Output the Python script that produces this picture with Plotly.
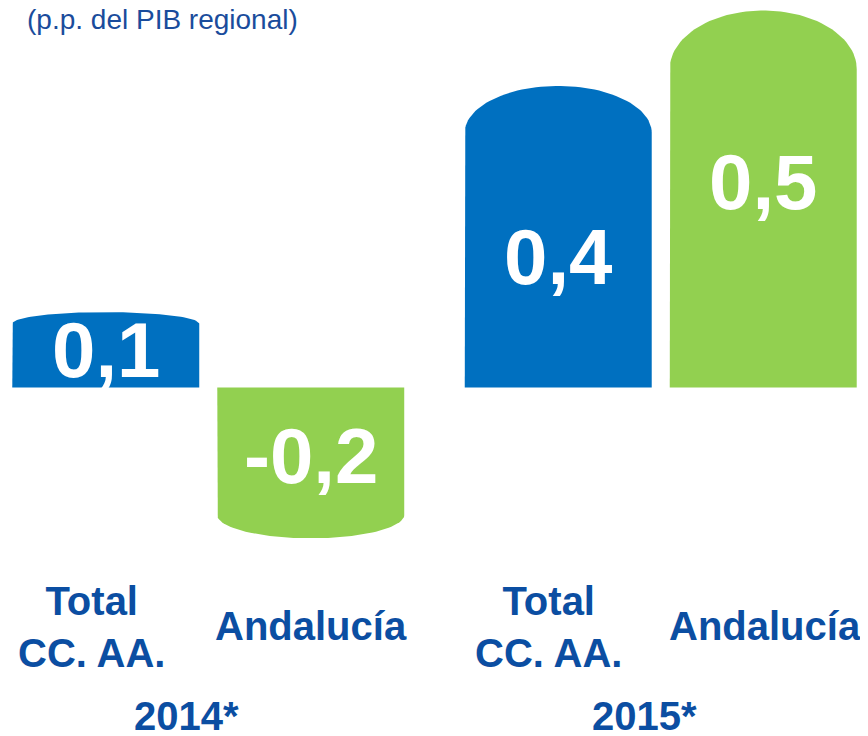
import numpy as np
import plotly.graph_objects as go

# ---------------- data ----------------
years = ["2014*", "2015*"]
categories = ["Total<br>CC. AA.", "Andalucía"]
total_ccaa = [0.1, 0.4]
andalucia = [-0.2, 0.5]
title_text = "(p.p. del PIB regional)"

# ---------------- style ----------------
BLUE = "#0070C0"
GREEN = "#92D050"
TEXT_BLUE = "#0B4EA2"
TITLE_BLUE = "#1A4C9C"
FONT = "Liberation Sans, Arial, sans-serif"

W, H = 868, 736
PAGE_OFF = 8                   # browser body margin compensation (px)

group_pos = [0.0, 2.2073]      # x position of each year group
bar_offset = [-0.5, 0.5]       # position of each series within the group
half_w = 0.456                 # half bar width (x units)
cap_frac = 0.155               # rounded cap height as fraction of bar value
label_frac = [[0.497, 0.457], [0.433, 0.545]]  # value label position (fraction of value)
cat_xshift = [[-14, 0], [-10, 2]]
year_xshift = [-22, -16]


def py(page_px):
    """page pixel (from top) -> paper y"""
    return 1 - (page_px - PAGE_OFF) / H


def px(page_px):
    """page pixel (from left) -> paper x"""
    return (page_px - PAGE_OFF) / W


fig = go.Figure()

series = [total_ccaa, andalucia]
colors = [BLUE, GREEN]

theta = np.linspace(np.pi, 0, 60)
for gi, year in enumerate(years):
    for si in range(2):
        v = series[si][gi]
        c = group_pos[gi] + bar_offset[si]
        h = cap_frac * v
        xs = [c - half_w] + list(c + half_w * np.cos(theta)) + [c + half_w, c - half_w]
        ys = [0] + list((v - h) + h * np.sin(theta)) + [0, 0]
        fig.add_trace(go.Scatter(
            x=xs, y=ys, mode="lines", fill="toself",
            fillcolor=colors[si], line=dict(width=0, color=colors[si]),
            hoverinfo="skip", showlegend=False))
        # value label
        fig.add_annotation(
            x=c, y=v * label_frac[gi][si], xref="x", yref="y",
            text=f"{v:.1f}".replace(".", ","), showarrow=False,
            font=dict(family=FONT, size=78, color="white", weight="bold"),
            xanchor="center", yanchor="middle")
        # category label
        fig.add_annotation(
            x=c, y=py(627) if si == 0 else py(626), xref="x", yref="paper",
            text=f"<b>{categories[si]}</b>", showarrow=False,
            font=dict(family=FONT, size=40, color=TEXT_BLUE),
            xanchor="center", yanchor="middle",
            xshift=cat_xshift[gi][si])
    # year label
    fig.add_annotation(
        x=group_pos[gi], y=py(716), xref="x", yref="paper",
        text=f"<b>{year}</b>", showarrow=False,
        font=dict(family=FONT, size=40, color=TEXT_BLUE),
        xanchor="center", yanchor="middle", xshift=year_xshift[gi])

fig.add_annotation(
    x=px(25), y=py(20), xref="paper", yref="paper",
    text=title_text, showarrow=False,
    font=dict(family=FONT, size=28, color=TITLE_BLUE),
    xanchor="left", yanchor="middle")

# axis ranges: page x pixel 208.25 -> x=0, 205 px per unit; page y 387.5 -> 0, 754 px per unit
x_unit, x0_page = 205.0, 208.25
y_unit, y0_page = 754.0, 387.5
x_range = [(PAGE_OFF - x0_page) / x_unit, (PAGE_OFF + W - x0_page) / x_unit]
y_range = [(y0_page - (PAGE_OFF + H)) / y_unit, (y0_page - PAGE_OFF) / y_unit]

fig.update_layout(
    width=W, height=H, autosize=False,
    margin=dict(l=0, r=0, t=0, b=0),
    paper_bgcolor="white", plot_bgcolor="white",
    showlegend=False,
    xaxis=dict(range=x_range, visible=False, fixedrange=True),
    yaxis=dict(range=y_range, visible=False, fixedrange=True),
)

fig.write_html("out.html")
